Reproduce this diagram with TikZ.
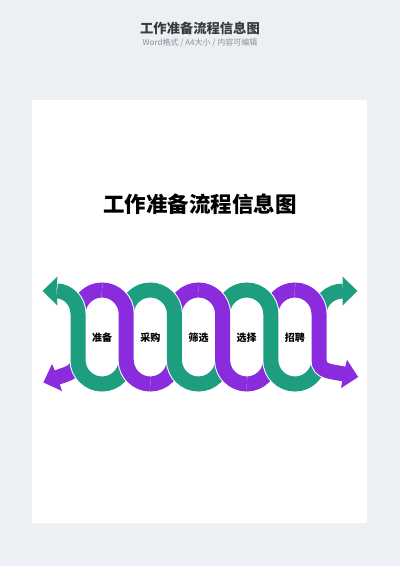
\documentclass[tikz,border=0pt]{standalone}
\usepackage{fontspec}
\newfontfamily\cjk{Noto Sans CJK SC}
\definecolor{bg}{HTML}{ECEFF4}
\definecolor{grn}{RGB}{30,158,128}
\definecolor{pur}{RGB}{138,44,222}
\definecolor{hdr}{HTML}{3A3A3A}
\definecolor{sub}{HTML}{8C9099}
\tikzset{
  bandout/.style={draw=white, line width=17pt},
  bandg/.style={draw=grn, line width=15pt},
  bandp/.style={draw=pur, line width=15pt},
  lbl/.style={font=\cjk\bfseries\fontsize{10}{12}\selectfont, text=black, inner sep=0pt}
}
\newcommand\greenstrand[1]{%
  \draw[#1] (57,291) .. controls (68,291) and (78,301) .. (78,314.1)
    -- ++(0,45.8) arc[start angle=180,end angle=0,radius=24.1]
    -- ++(0,-45.8) arc[start angle=180,end angle=360,radius=24.1]
    -- ++(0,45.8) arc[start angle=180,end angle=0,radius=24.1]
    -- ++(0,-45.8) arc[start angle=180,end angle=360,radius=24.1]
    -- ++(0,45.8) arc[start angle=180,end angle=0,radius=24.1]
    -- ++(0,-45.8) .. controls +(0,-13) and (330,291) .. (343,291);}
\newcommand\purplestrand[1]{%
  \draw[#1] (57,377.5) .. controls (67.3,373.8) and (78,372) .. (78,359.9)
    -- ++(0,-45.8) arc[start angle=180,end angle=360,radius=24.1]
    -- ++(0,45.8) arc[start angle=180,end angle=0,radius=24.1]
    -- ++(0,-45.8) arc[start angle=180,end angle=360,radius=24.1]
    -- ++(0,45.8) arc[start angle=180,end angle=0,radius=24.1]
    -- ++(0,-45.8) arc[start angle=180,end angle=360,radius=24.1]
    -- ++(0,45.8) .. controls +(0,12) and (332,371.5) .. (344,374);}
\newcommand\purpleover[2]{%
  \draw[#1] (#2,290) arc[start angle=270,end angle=360,radius=24.1]
    -- ++(0,45.8) arc[start angle=180,end angle=90,radius=24.1];}
\newcommand\purpleoverlast[1]{%
  \draw[#1] (294.9,290) arc[start angle=270,end angle=360,radius=24.1]
    -- ++(0,45.8) .. controls +(0,12) and (332,371.5) .. (344,374);}
\begin{document}
\begin{tikzpicture}[x=1pt,y=-1pt]
\useasboundingbox (0,0) rectangle (400,566);
\fill[bg] (0,0) rectangle (400,566);
% page
\fill[black!6] (33,101) rectangle (368.5,524.5);
\fill[white] (32,100) rectangle (367,523);
% header
\node[font=\cjk\bfseries\fontsize{13.3}{15}\selectfont, text=hdr] (hd) at (200,28.5) {工作准备流程信息图};
\node[font=\cjk\fontsize{8}{9}\selectfont, text=sub] (sb) at (200,43.3) {Word格式 / A4大小 / 内容可编辑};
% title
\node[font=\cjk\bfseries\fontsize{21.5}{24}\selectfont, text=black] (title) at (200,204) {工作准备流程信息图};
% purple strand
\purplestrand{bandout}
\purplestrand{bandp}
\fill[pur] (57.5,377.3) -- (52.04,363.9) -- (43.4,382.5) -- (62,391) -- cycle;
% green strand
\greenstrand{bandout}
\greenstrand{bandg}
\fill[grn] (57.5,276.5) -- (42.5,291) -- (57.5,305.5) -- (56.5,291) -- cycle;
\fill[grn] (342.5,276.5) -- (357.5,291) -- (342.5,305.5) -- cycle;
% purple over at crossings
\purpleover{bandout}{102.1}
\purpleover{bandp}{102.1}
\purpleover{bandout}{198.5}
\purpleover{bandp}{198.5}
\purpleoverlast{bandout}
\purpleoverlast{bandp}
\fill[pur] (343.5,373.9) -- (347,359.8) -- (358.2,377) -- (341,388.2) -- cycle;
% labels
\node[lbl] (l1) at (102.1,337.5) {准备};
\node[lbl] (l2) at (150.3,337.5) {采购};
\node[lbl] (l3) at (198.5,337.5) {筛选};
\node[lbl] (l4) at (246.7,337.5) {选择};
\node[lbl] (l5) at (294.9,337.5) {招聘};
\end{tikzpicture}
\end{document}
